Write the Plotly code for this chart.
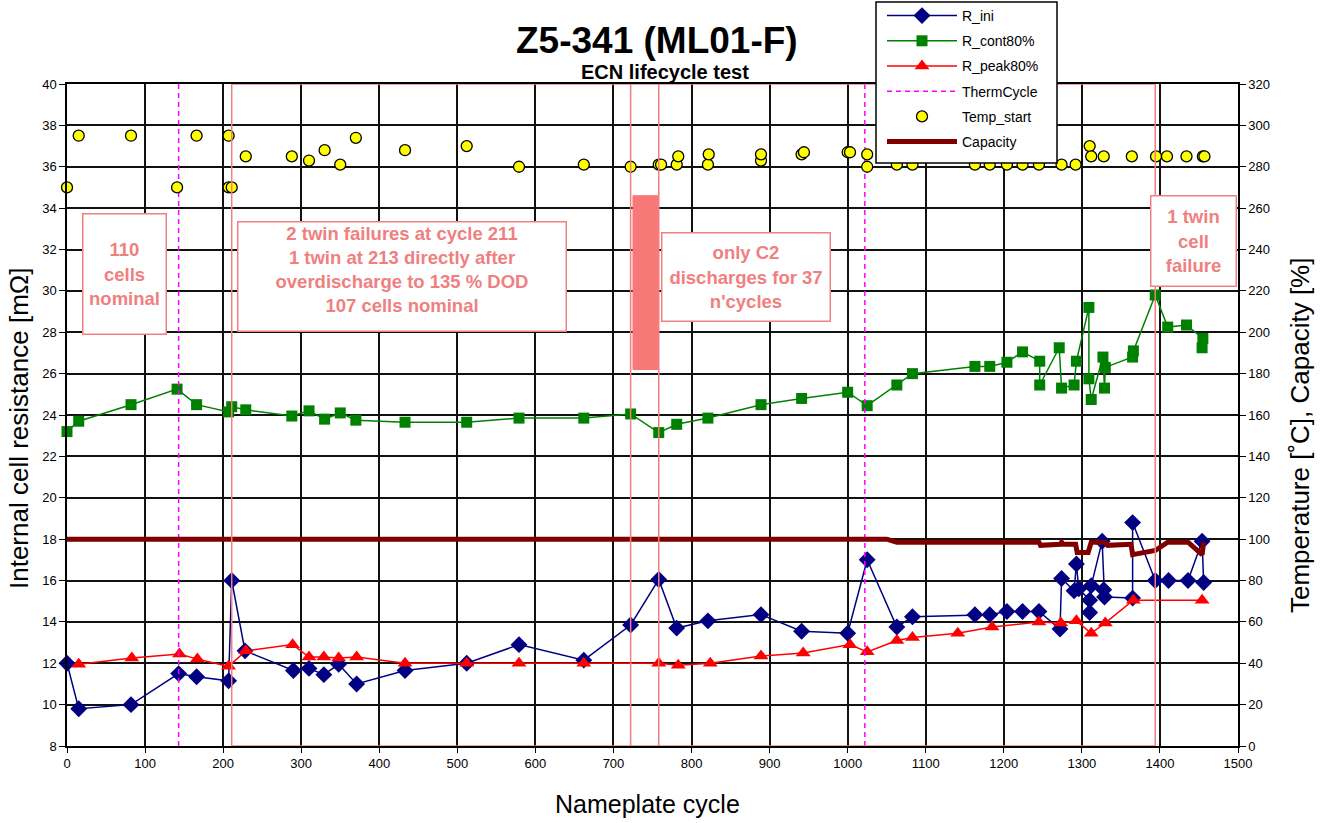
import plotly.graph_objects as go

# ---------------- data ----------------
rini_x = [0, 15, 82, 143, 166, 207, 211, 228, 290, 310, 329, 348, 371, 433, 512, 579, 662,
          722, 758, 781, 821, 889, 941, 1000, 1025, 1063, 1083, 1163, 1182, 1204, 1224, 1245,
          1272, 1274, 1290, 1293, 1296, 1310, 1310, 1312, 1326, 1328, 1329, 1365, 1365, 1394,
          1411, 1436, 1454, 1456]
rini_y = [12.0, 9.8, 10.0, 11.5, 11.35, 11.15, 16.0, 12.6, 11.65, 11.75, 11.45, 11.95, 11.0,
          11.65, 12.0, 12.9, 12.15, 13.85, 16.05, 13.7, 14.05, 14.35, 13.55, 13.45, 17.0, 13.75,
          14.25, 14.35, 14.35, 14.5, 14.5, 14.5, 13.65, 16.1, 15.5, 16.8, 15.6, 15.05, 14.45,
          15.75, 17.9, 15.55, 15.2, 15.15, 18.8, 16.0, 16.0, 16.0, 17.9, 15.9]

rcont_x = [0, 15, 82, 141, 166, 207, 211, 229, 288, 310, 330, 350, 370, 433, 512, 579, 662,
           722, 758, 781, 821, 889, 941, 1000, 1025, 1063, 1083, 1163, 1182, 1204, 1224, 1246,
           1246, 1271, 1274, 1290, 1293, 1309, 1309, 1312, 1327, 1329, 1330, 1365, 1366, 1394,
           1410, 1434, 1455, 1454]
rcont_y = [23.2, 23.7, 24.5, 25.25, 24.5, 24.15, 24.4, 24.25, 23.95, 24.2, 23.8, 24.1, 23.75,
           23.65, 23.65, 23.85, 23.85, 24.05, 23.15, 23.55, 23.85, 24.5, 24.8, 25.1, 24.45,
           25.45, 26.0, 26.35, 26.35, 26.55, 27.05, 26.6, 25.45, 27.25, 25.3, 25.45, 26.6, 29.2,
           25.75, 24.75, 26.8, 25.3, 26.3, 26.8, 27.1, 29.8, 28.25, 28.35, 27.7, 27.25]

rpeak_x = [15, 83, 144, 167, 207, 229, 289, 310, 329, 348, 371, 433, 512, 579, 662, 758, 783,
           824, 889, 943, 1003, 1025, 1063, 1083, 1141, 1185, 1245, 1273, 1293, 1312, 1330,
           1366, 1454]
rpeak_y = [11.95, 12.25, 12.45, 12.2, 11.85, 12.6, 12.9, 12.3, 12.3, 12.25, 12.3, 12.0, 12.0,
           12.0, 12.0, 12.0, 11.9, 12.0, 12.35, 12.5, 12.9, 12.55, 13.1, 13.25, 13.45, 13.75,
           14.0, 13.95, 14.05, 13.45, 13.95, 15.05, 15.05]

therm_x = [143, 1022]

temp_x = [0, 15, 82, 141, 166, 207, 207, 211, 229, 288, 310, 330, 350, 370, 433, 512, 579, 662,
          722, 758, 761, 781, 783, 821, 822, 889, 889, 941, 944, 1000, 1003, 1025, 1025, 1063,
          1083, 1163, 1182, 1204, 1224, 1245, 1274, 1292, 1310, 1312, 1328, 1364, 1395, 1409,
          1434, 1455, 1457]
temp_y = [270, 295, 295, 270, 295, 295, 270, 270, 285, 285, 283, 288, 281, 294, 288, 290, 280,
          281, 280, 281, 281, 281, 285, 281, 286, 283, 286, 286, 287, 287, 287, 286, 280, 281,
          281, 281, 281, 281, 281, 281, 281, 281, 290, 285, 285, 285, 285, 285, 285, 285, 285]

cap_x = [0, 1050, 1063, 1245, 1247, 1272, 1274, 1276, 1292, 1294, 1308, 1310, 1312, 1330, 1333,
         1363, 1365, 1394, 1410, 1436, 1454, 1456]
cap_y = [100, 100, 98.5, 98.5, 97, 97.5, 98.5, 97.5, 97.5, 93.5, 93.5, 97.5, 98.5, 98.5, 97,
         97.5, 92.5, 94.5, 98.5, 98.5, 92.5, 98.5]

x_ticks = list(range(0, 1501, 100))
y_left_ticks = list(range(8, 41, 2))
y_right_ticks = list(range(0, 321, 20))

# ---------------- figure ----------------
FONT = "Liberation Sans, Arial, Helvetica, sans-serif"
PINK = "#f08080"

fig = go.Figure()

fig.add_trace(go.Scatter(x=rini_x, y=rini_y, name="R_ini", mode="lines+markers",
                         line=dict(color="#000080", width=1.5),
                         marker=dict(symbol="diamond", size=13, color="#000080"),
                         cliponaxis=False, legendgroup="a"))
fig.add_trace(go.Scatter(x=rcont_x, y=rcont_y, name="R_cont80%", mode="lines+markers",
                         line=dict(color="#008000", width=1.5),
                         marker=dict(symbol="square", size=11, color="#008000"),
                         cliponaxis=False, legendgroup="b"))
fig.add_trace(go.Scatter(x=rpeak_x, y=rpeak_y, name="R_peak80%", mode="lines+markers",
                         line=dict(color="#ff0000", width=1.5),
                         marker=dict(symbol="triangle-up", size=13, color="#ff0000"),
                         cliponaxis=False, legendgroup="c"))
tx, ty = [], []
for v in therm_x:
    tx += [v, v, None]
    ty += [8, 40, None]
fig.add_trace(go.Scatter(x=tx, y=ty, name="ThermCycle", mode="lines",
                         line=dict(color="#ff00ff", width=1.5, dash="5px,4px"),
                         legendgroup="d"))
fig.add_trace(go.Scatter(x=temp_x, y=temp_y, name="Temp_start", mode="markers", yaxis="y2",
                         marker=dict(symbol="circle", size=11, color="#ffff00",
                                     line=dict(color="black", width=1.3)),
                         cliponaxis=False, legendgroup="e"))
fig.add_trace(go.Scatter(x=cap_x, y=cap_y, name="Capacity", mode="lines", yaxis="y2",
                         line=dict(color="#800000", width=5),
                         cliponaxis=False, legendgroup="f"))

# pixel helpers for paper coords (plot area 67..1238 x, 84..746 y)
def px(xp):
    return (xp - 67) / 1171.0

def py(yp):
    return (746 - yp) / 662.0

shapes = [
    dict(type="rect", xref="x", yref="y", x0=211, x1=1394, y0=8, y1=40,
         line=dict(color=PINK, width=1.5), fillcolor="rgba(0,0,0,0)", layer="above"),
    dict(type="line", xref="x", yref="y", x0=722, x1=722, y0=8, y1=40,
         line=dict(color=PINK, width=1.5), layer="above"),
    dict(type="line", xref="x", yref="y", x0=758, x1=758, y0=8, y1=40,
         line=dict(color=PINK, width=1.5), layer="above"),
    dict(type="rect", xref="x", yref="y", x0=725, x1=757, y0=26.2, y1=34.6,
         line=dict(color="#f87878", width=1), fillcolor="#f87878", layer="above"),
    # legend frame
    dict(type="rect", xref="paper", yref="paper", x0=px(876), x1=px(1057), y0=py(163),
         y1=py(2), line=dict(color="black", width=1.5), fillcolor="white", layer="above"),
]

ann = []
box_style = dict(showarrow=False, xref="x", yref="y", bgcolor="white", bordercolor=PINK,
                 borderwidth=1.5, borderpad=0,
                 font=dict(family=FONT, size=18.5, color=PINK, weight="bold"))
ann.append(dict(x=73.6, y=30.82, text="110<br>cells<br>nominal", width=82, height=119,
                valign="middle", **box_style))
ann.append(dict(x=429, y=30.69, text="2 twin failures at cycle 211<br>1 twin at 213 directly after"
                "<br>overdischarge to 135 % DOD<br>107 cells nominal", width=327, height=108,
                valign="top", **box_style))
ann.append(dict(x=869.7, y=30.67, text="only C2<br>discharges for 37<br>n'cycles", width=167,
                height=87, valign="middle", **box_style))
ann.append(dict(x=1443, y=32.41, text="1 twin<br>cell<br>failure", width=84, height=89,
                valign="middle", **box_style))

lbl = dict(xref="paper", yref="paper", showarrow=False, xanchor="center", yanchor="middle")
ann.append(dict(text="Z5-341 (ML01-F)", x=px(657), y=py(40),
                font=dict(family=FONT, size=37, color="black", weight="bold"), **lbl))
ann.append(dict(text="ECN lifecycle test", x=px(665), y=py(72),
                font=dict(family=FONT, size=20, color="black", weight="bold"), **lbl))
ann.append(dict(text="Nameplate cycle", x=px(647), y=py(804),
                font=dict(family=FONT, size=25, color="black"), **lbl))
ann.append(dict(text="Internal cell resistance [mΩ]", x=px(19), y=py(429), textangle=-90,
                font=dict(family=FONT, size=26, color="black"), **lbl))
ann.append(dict(text="Temperature [˚C], Capacity [%]", x=px(1300), y=py(436), textangle=-90,
                font=dict(family=FONT, size=26, color="black"), **lbl))

fig.update_layout(
    width=1324, height=823,
    margin=dict(l=67, r=86, t=84, b=77, autoexpand=False),
    paper_bgcolor="white", plot_bgcolor="white",
    font=dict(family=FONT, size=13, color="black"),
    showlegend=True,
    legend=dict(x=px(882), y=py(0), xanchor="left", yanchor="top",
                bgcolor="rgba(0,0,0,0)", borderwidth=0, font=dict(family=FONT, size=14),
                itemwidth=70, tracegroupgap=4),
    xaxis=dict(range=[0, 1500], tickvals=x_ticks, ticktext=[str(v) for v in x_ticks],
               showgrid=True, gridcolor="#111111", gridwidth=1.7, zeroline=False,
               showline=True, linecolor="black", linewidth=1.5, mirror=True,
               ticks="outside", ticklen=5, tickcolor="black", tickfont=dict(size=13)),
    yaxis=dict(range=[8, 40], tickvals=y_left_ticks, ticktext=[str(v) for v in y_left_ticks],
               showgrid=True, gridcolor="#111111", gridwidth=1.7, zeroline=False,
               showline=True, linecolor="black", linewidth=1.5,
               ticks="outside", ticklen=6, tickcolor="black", tickfont=dict(size=13)),
    yaxis2=dict(range=[0, 320], tickvals=y_right_ticks, ticktext=[str(v) for v in y_right_ticks],
                overlaying="y", side="right", showgrid=False, zeroline=False,
                showline=True, linecolor="black", linewidth=1.5,
                ticks="outside", ticklen=6, tickcolor="black", tickfont=dict(size=13)),
    shapes=shapes,
    annotations=ann,
)

fig.write_html("out.html")
